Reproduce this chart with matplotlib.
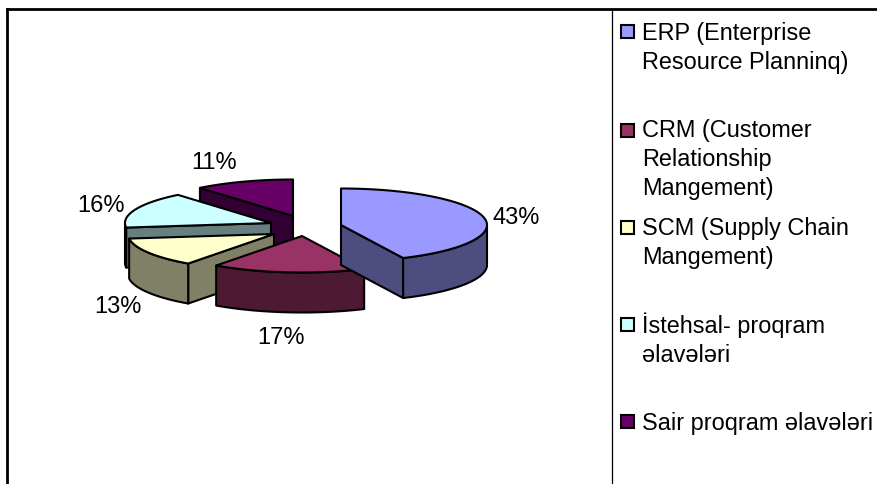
import numpy as np
import matplotlib
matplotlib.use("Agg")
import matplotlib.pyplot as plt
from matplotlib.patches import Polygon, Rectangle

plt.rcParams['font.family'] = ['Liberation Sans', 'DejaVu Sans']

# data
labels = ["ERP (Enterprise\nResource Planninq)",
          "CRM (Customer\nRelationship\nMangement)",
          "SCM (Supply Chain\nMangement)",
          "İstehsal- proqram\nəlavələri",
          "Sair proqram əlavələri"]
values = [43, 17, 13, 16, 11]
top_colors = ["#9999FF", "#993366", "#FFFFCC", "#CCFFFF", "#660066"]
side_colors = ["#4D4D80", "#4D1933", "#808066", "#668080", "#330033"]

# layout, all in pixels of the picture
apex = [(341, 226), (302, 237), (274, 235), (271, 224), (293, 217)]
pct_pos = [(516, 218), (281, 338), (118, 307), (101, 206), (214, 163)]
legend_y = [32, 131, 228, 325, 422]
legend_base = [40, 137, 235, 333, 430]
rx, ry, depth = 146, 36.5, 40
line_h = 29

fig = plt.figure(figsize=(8.78, 4.85), dpi=100)
ax = fig.add_axes([0, 0, 1, 1])
ax.set_xlim(0, 878)
ax.set_ylim(485, 0)
ax.axis("off")


def rim(c, a0, a1, dy=0):
    # angles in degrees, clockwise from 12 o'clock
    t = np.radians(np.linspace(a0, a1, 80))
    return np.column_stack([c[0] + rx * np.sin(t), c[1] - ry * np.cos(t) + dy])


def wall(pts, color, z):
    ax.add_patch(Polygon(pts, closed=True, fc=color, ec="black", lw=1.5, joinstyle="round", zorder=z))


edges = np.cumsum([0] + values) * 3.6

# painted back to front, so the last slices go first
for i in [4, 3, 2, 1, 0]:
    a0, a1 = edges[i], edges[i + 1]
    c = apex[i]
    z = 5 - i

    # radial faces, only those turned to the viewer
    for ang, normal in [(a0, a0 - 90), (a1, a1 + 90)]:
        if np.cos(np.radians(normal)) < -0.01:
            p = rim(c, ang, ang)[0]
            wall([c, p, (p[0], p[1] + depth), (c[0], c[1] + depth)], side_colors[i], z)

    # outer face, front half of the ellipse
    lo, hi = max(a0, 90), min(a1, 270)
    if hi > lo:
        wall(np.vstack([rim(c, lo, hi), rim(c, hi, lo, depth)]), side_colors[i], z)

    wall(np.vstack([[c], rim(c, a0, a1)]), top_colors[i], z)

for (x, y), v in zip(pct_pos, values):
    ax.text(x, y, "%d%%" % v, fontsize=17, ha="center", va="center", color="black", zorder=10)

# legend
for lab, col, my, base in zip(labels, top_colors, legend_y, legend_base):
    ax.add_patch(Rectangle((621.5, my - 6.5), 12.5, 13, fc=col, ec="black", lw=1.5, zorder=10))
    for n, line in enumerate(lab.split("\n")):
        ax.text(642, base + n * line_h, line, fontsize=16.9, ha="left", va="baseline", color="black", zorder=10)

# frame
ax.plot([7, 7], [485, 10], color="black", lw=2, solid_capstyle="projecting")
ax.plot([7, 878], [10, 10], color="black", lw=2, solid_capstyle="projecting")
ax.plot([612, 612], [10, 485], color="black", lw=0.9)

fig.savefig("out.png", dpi=100)
